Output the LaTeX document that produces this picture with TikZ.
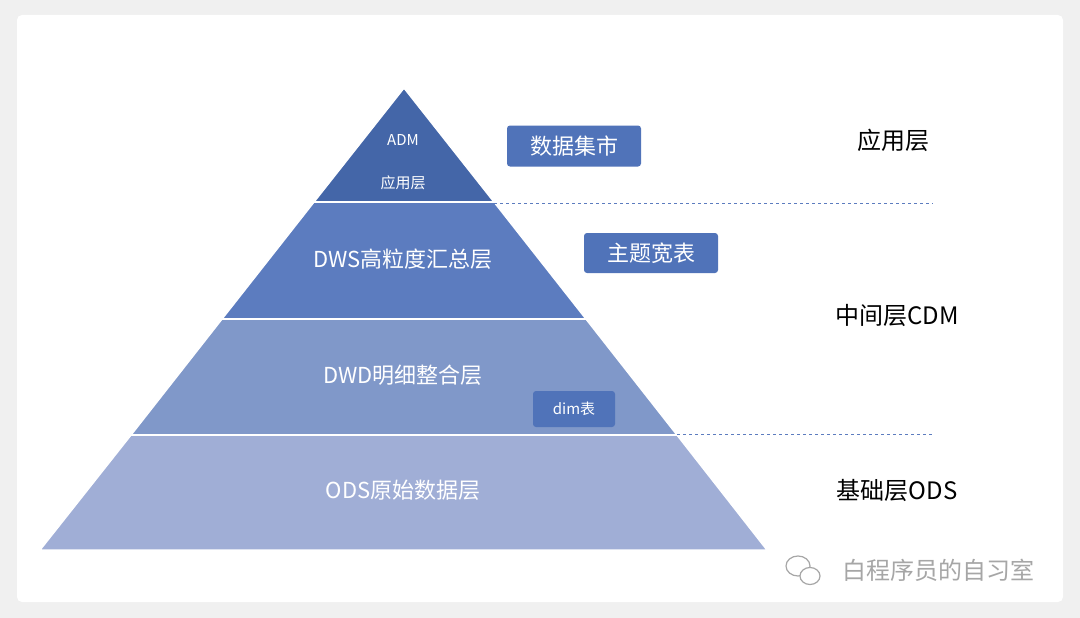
\documentclass[tikz,border=0pt]{standalone}
\usepackage{fontspec}
\setmainfont{Noto Sans CJK SC}
\begin{document}
\begin{tikzpicture}[x=1pt,y=-1pt,
 lay/.style={draw=white,line width=1.5pt},
 tag/.style={fill=tagc,rounded corners=3pt,text=white,inner sep=0pt},
 side/.style={font=\fontsize{24}{28}\selectfont,text=black},
 dashln/.style={draw=dashc,dashed,line width=1pt}]
\definecolor{c1}{HTML}{4466A8}
\definecolor{c2}{HTML}{5C7CBF}
\definecolor{c3}{HTML}{8098C9}
\definecolor{c4}{HTML}{A0AED6}
\definecolor{tagc}{HTML}{5073B9}
\definecolor{dashc}{HTML}{5C7CBF}
\fill[white!94!black] (0,0) rectangle (1080,618);
\useasboundingbox (0,0) rectangle (1080,618);
\fill[white, rounded corners=5pt] (17,15) rectangle (1063,602);
\coordinate (apex) at (404,88);
\fill[lay,fill=c4] (131,435) -- (677,435) -- (767,550) -- (40,550) -- cycle;
\fill[lay,fill=c3] (222,319) -- (586,319) -- (677,435) -- (131,435) -- cycle;
\fill[lay,fill=c2] (314,202) -- (494,202) -- (586,319) -- (222,319) -- cycle;
\fill[lay,fill=c1] (apex) -- (494,202) -- (314,202) -- cycle;
\draw[white,line width=1.5pt] (314,202)--(494,202) (222,319)--(586,319) (131,435)--(677,435);
\node[text=white,font=\fontsize{15}{18}\selectfont] (adm) at (403,140) {ADM};
\node[text=white,font=\fontsize{15}{18}\selectfont] (admz) at (403,183) {应用层};
\node[text=white,font=\fontsize{22}{26}\selectfont] (dws) at (403,259) {DWS高粒度汇总层};
\node[text=white,font=\fontsize{22}{26}\selectfont] (dwd) at (403,375) {DWD明细整合层};
\node[text=white,font=\fontsize{22}{26}\selectfont] (ods) at (403,490) {ODS原始数据层};
\node[tag,minimum width=134pt,minimum height=41pt,font=\fontsize{22}{26}\selectfont] (t1) at (574,146) {数据集市};
\node[tag,minimum width=134pt,minimum height=40pt,font=\fontsize{22}{26}\selectfont] (t2) at (651,253) {主题宽表};
\node[tag,minimum width=82pt,minimum height=36pt,font=\fontsize{15}{18}\selectfont] (t3) at (574,409) {dim表};
\coordinate (d1a) at (494,203); \coordinate (d1b) at (933,203);
\coordinate (d2a) at (677,434); \coordinate (d2b) at (933,434);
\draw[dashln] (d1a) -- (d1b);
\draw[dashln] (d2a) -- (d2b);
\node[side] (s1) at (893,140) {应用层};
\node[side] (s2) at (897,315) {中间层CDM};
\node[side] (s3) at (897,490) {基础层ODS};
\begin{scope}[draw=gray!70,line width=1.2pt]
\draw[fill=white] (798,566) ellipse (12 and 10);
\draw[fill=white] (810,576) ellipse (10 and 8.5);
\end{scope}
\node[text=gray!70,font=\fontsize{24}{28}\selectfont] (wm) at (938,570) {白程序员的自习室};
\end{tikzpicture}
\end{document}
